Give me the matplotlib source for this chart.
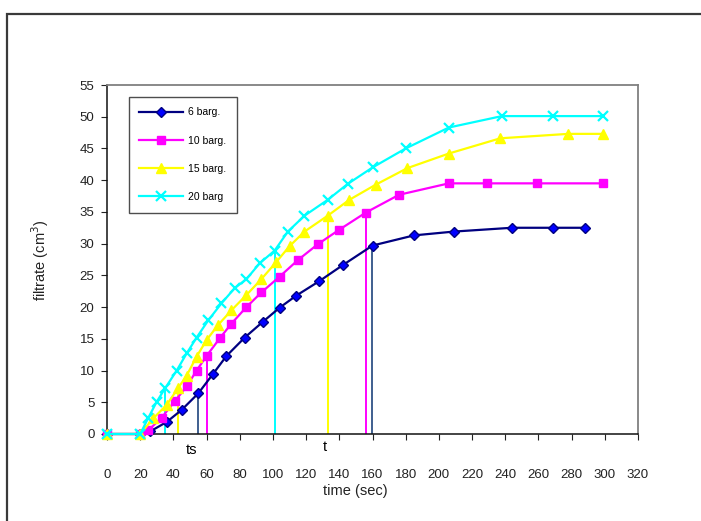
import matplotlib.pyplot as plt
from matplotlib.patches import Rectangle

plt.rcParams['font.family'] = ['Liberation Sans', 'DejaVu Sans']

# filtrate volume (cm3) against time (sec) for each pressure
t_6 = [0, 20, 26, 36, 45, 55, 64, 72, 83, 94, 104, 114, 128, 142, 160, 185, 209, 244, 269, 288]
v_6 = [0, 0, 0.4, 1.9, 3.8, 6.4, 9.5, 12.3, 15.2, 17.7, 19.9, 21.8, 24.1, 26.6, 29.7, 31.3, 31.9, 32.5, 32.5, 32.5]

t_10 = [0, 20, 25, 33, 41, 48, 54, 60, 68, 75, 84, 93, 104, 115, 127, 140, 156, 176, 206, 229, 259, 299]
v_10 = [0, 0, 0.6, 2.6, 5.2, 7.5, 10.0, 12.3, 15.1, 17.4, 20.0, 22.3, 24.8, 27.4, 29.9, 32.2, 34.9, 37.7, 39.5, 39.5, 39.5, 39.5]

t_15 = [0, 20, 28, 36, 43, 48, 54, 60, 67, 75, 84, 93, 102, 110, 119, 133, 146, 162, 181, 206, 237, 278, 299]
v_15 = [0, 0, 2.5, 4.6, 7.3, 9.2, 12.2, 14.8, 17.2, 19.5, 21.9, 24.4, 27.1, 29.6, 31.9, 34.4, 36.9, 39.3, 41.9, 44.2, 46.6, 47.3, 47.3]

t_20 = [0, 20, 25, 30, 35, 42, 48, 54, 61, 69, 77, 84, 92, 101, 109, 119, 133, 145, 160, 180, 206, 238, 269, 299]
v_20 = [0, 0, 2.6, 5.1, 7.2, 10.0, 12.7, 15.2, 17.9, 20.6, 23.0, 24.4, 26.9, 28.9, 31.9, 34.4, 36.9, 39.4, 42.0, 45.0, 48.3, 50.1, 50.1, 50.1]

labels = ['6 barg.', '10 barg.', '15 barg.', '20 barg']

# ts and t markers (time, filtrate) for each run
ts_time = [55, 60, 43, 35]
ts_vol = [6.4, 12.3, 7.3, 7.2]
t_time = [159.5, 156, 133, 101]
t_vol = [29.7, 34.9, 34.4, 28.9]

x_ticks = list(range(0, 321, 20))
y_ticks = list(range(0, 56, 5))

fig = plt.figure(figsize=(7.01, 5.21), dpi=100)
fig.patch.set_facecolor('white')

# outer chart border
fig.patches.append(Rectangle((7 / 701, -0.1), 1.2, 1 - 14 / 521 + 0.1,
                             transform=fig.transFigure, fill=False,
                             edgecolor='#3a3a3a', linewidth=1.6))

ax = fig.add_axes([107 / 701, 1 - 434 / 521, 531 / 701, 349 / 521])

styles = [
    dict(color='#000080', marker='D', markersize=5.5, markerfacecolor='#0000FF', markeredgecolor='#000080'),
    dict(color='#FF00FF', marker='s', markersize=6, markerfacecolor='#FF00FF', markeredgecolor='#FF00FF'),
    dict(color='#FFFF00', marker='^', markersize=7.5, markerfacecolor='#FFFF00', markeredgecolor='#FFFF00'),
    dict(color='#00FFFF', marker='x', markersize=7.5, markeredgewidth=1.6, markeredgecolor='#00FFFF'),
]
vcolors = ['#3f5f8f', '#FF00FF', '#FFFF00', '#00FFFF']

series = [(t_6, v_6), (t_10, v_10), (t_15, v_15), (t_20, v_20)]
for (tt, vv), lab, st in zip(series, labels, styles):
    ax.plot(tt, vv, linewidth=1.6, label=lab, clip_on=False, zorder=3, **st)

for i in range(4):
    ax.vlines([ts_time[i], t_time[i]], 0, [ts_vol[i], t_vol[i]],
              colors=vcolors[i], linewidth=1.4, zorder=2)

ax.text(51, -2.6, 'ts', ha='center', va='center', fontsize=10.5)
ax.text(131, -2.1, 't', ha='center', va='center', fontsize=10.5)

ax.set_xlim(0, 320)
ax.set_ylim(0, 55)
ax.set_xticks(x_ticks)
ax.set_yticks(y_ticks)
ax.tick_params(axis='x', direction='out', length=4, pad=21, labelsize=9.5, colors='#222222')
ax.tick_params(axis='y', direction='out', length=4, pad=5, labelsize=9.5, colors='#222222')

for side in ['top', 'right']:
    ax.spines[side].set_color('#808080')
    ax.spines[side].set_linewidth(1.3)
for side in ['left', 'bottom']:
    ax.spines[side].set_color('#111111')
    ax.spines[side].set_linewidth(1.1)

fig.text(355 / 701, 1 - 491 / 521, 'time (sec)', ha='center', va='center', fontsize=10.5, color='#222222')
fig.text(40 / 701, 1 - 260 / 521, 'filtrate (cm$^3$)', ha='center', va='center',
         rotation=90, fontsize=10.5, color='#222222')

leg = ax.legend(loc='upper left', bbox_to_anchor=(22 / 531, 1 - 12 / 349), borderaxespad=0,
                fontsize=7.5, frameon=True, fancybox=False, edgecolor='#222222', borderpad=1.0,
                labelspacing=1.75, handlelength=4.2, handletextpad=0.5)
leg.get_frame().set_linewidth(1.0)

fig.savefig('out.png', dpi=100)
